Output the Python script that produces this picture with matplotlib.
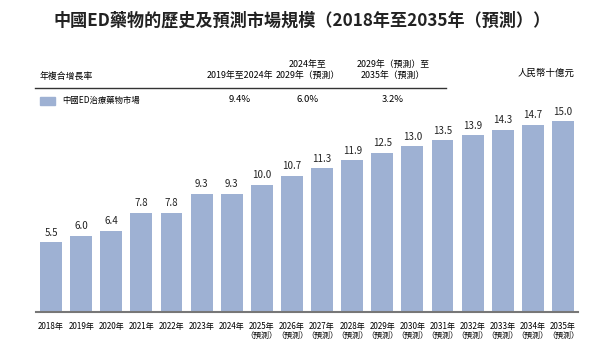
import matplotlib
matplotlib.use("Agg")
import matplotlib.pyplot as plt
from matplotlib.patches import Rectangle

plt.rcParams["font.family"] = ["Noto Sans CJK TC", "DejaVu Sans"]

years = ["2018年", "2019年", "2020年", "2021年", "2022年", "2023年", "2024年",
         "2025年\n（預測）", "2026年\n（預測）", "2027年\n（預測）", "2028年\n（預測）",
         "2029年\n（預測）", "2030年\n（預測）", "2031年\n（預測）", "2032年\n（預測）",
         "2033年\n（預測）", "2034年\n（預測）", "2035年\n（預測）"]
values = [5.5, 6.0, 6.4, 7.8, 7.8, 9.3, 9.3, 10.0, 10.7, 11.3, 11.9,
          12.5, 13.0, 13.5, 13.9, 14.3, 14.7, 15.0]
cagr_periods = ["2019年至2024年", "2024年至\n2029年（預測）", "2029年（預測）至\n2035年（預測）"]
cagr_values = ["9.4%", "6.0%", "3.2%"]
series_name = "中國ED治療藥物市場"

bar_color = "#9eb1d3"
W, H = 604, 353

fig = plt.figure(figsize=(W / 100, H / 100), dpi=100)
ax = fig.add_axes([36 / W, 1 - 312 / H, (578 - 36) / W, 191 / H])

x = range(len(values))
ax.bar(x, values, width=0.73, color=bar_color)
for i, v in zip(x, values):
    ax.text(i, v + 0.35, f"{v:.1f}", ha="center", va="bottom", fontsize=7, color="#222222")

ax.set_xlim(-0.5, len(values) - 0.5)
ax.set_ylim(0, 15)
ax.set_yticks([])
ax.set_xticks(list(x))
ax.set_xticklabels(years, fontsize=5.8, linespacing=1.1, va="top")
ax.tick_params(axis="x", length=0, pad=7)
for s in ["top", "right", "left"]:
    ax.spines[s].set_visible(False)
ax.spines["bottom"].set_color("#777777")
ax.spines["bottom"].set_linewidth(1.5)

# title and CAGR header
fig.text(302 / W, 1 - 21 / H, "中國ED藥物的歷史及預測市場規模（2018年至2035年（預測））",
         ha="center", va="center", fontsize=12.3, fontweight="bold", color="#222222")

fig.text(40 / W, 1 - 76 / H, "年複合增長率", ha="left", va="center", fontsize=6.4)
col_x = [240, 308, 393]
for cx, period, val in zip(col_x, cagr_periods, cagr_values):
    fig.text(cx / W, 1 - 80 / H, period, ha="center", va="bottom", fontsize=6.4, linespacing=1.3)
    fig.text(cx / W, 1 - 100 / H, val, ha="center", va="center", fontsize=6.8)
fig.text(575 / W, 1 - 73 / H, "人民幣十億元", ha="right", va="center", fontsize=6.8, style="italic")

fig.add_artist(plt.Line2D([35 / W, 446 / W], [1 - 88 / H, 1 - 88 / H], color="#333333", linewidth=1.0))
fig.add_artist(Rectangle((40 / W, 1 - 105 / H), 15 / W, 8 / H, color=bar_color, transform=fig.transFigure))
fig.text(62 / W, 1 - 100 / H, series_name, ha="left", va="center", fontsize=6.0)

fig.savefig("out.png", dpi=100)
